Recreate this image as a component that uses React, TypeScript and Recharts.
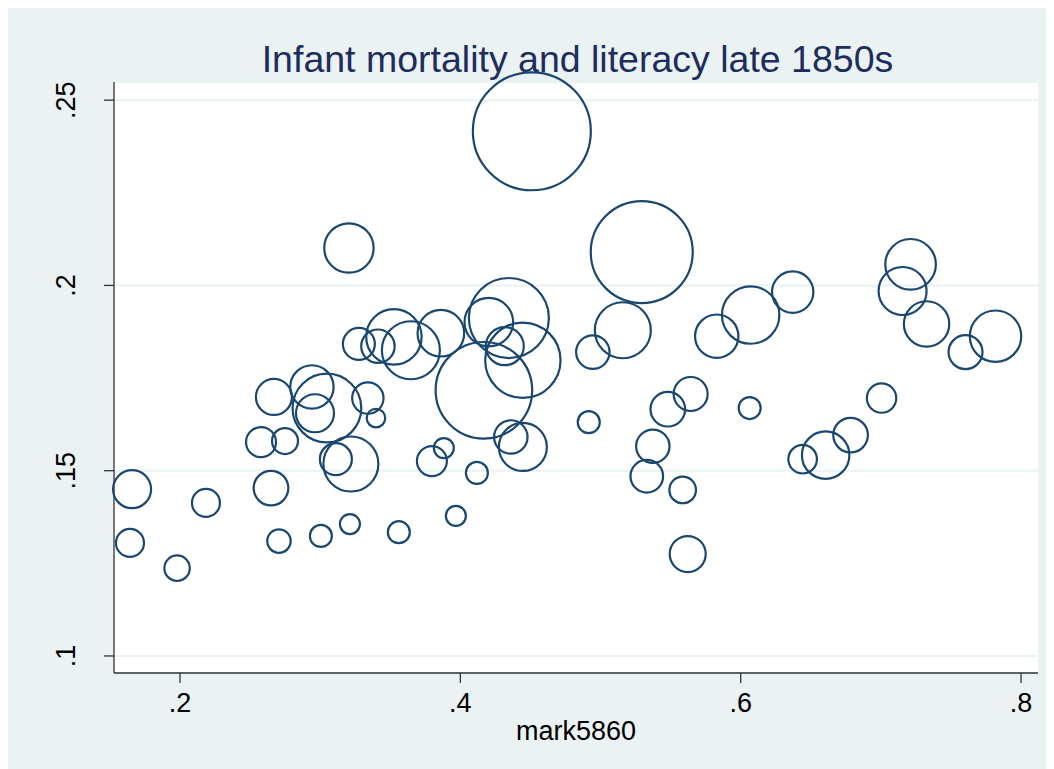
import React from 'react';
import { ScatterChart, Scatter, XAxis, YAxis, ZAxis, CartesianGrid } from 'recharts';

// literacy (share of marks) per district, late 1850s
const mark5860 = [
  0.1658, 0.1643, 0.1979, 0.2185, 0.2578, 0.2749, 0.267, 0.2649, 0.2706, 0.2941,
  0.3048, 0.2963, 0.3276, 0.3412, 0.334, 0.3398, 0.3112, 0.3219, 0.3005, 0.3205,
  0.3212, 0.3526, 0.3647, 0.3561, 0.3797, 0.3882, 0.3968, 0.3861, 0.4118, 0.4203,
  0.4346, 0.4317, 0.4446, 0.4168, 0.436, 0.4446, 0.451, 0.4916, 0.4945, 0.5159,
  0.5294, 0.533, 0.5373, 0.548, 0.5586, 0.5622, 0.5643, 0.5829, 0.6064, 0.6071,
  0.6371, 0.6442, 0.6606, 0.6784, 0.7005, 0.7212, 0.7155, 0.7326, 0.7604, 0.7818,
];

// infant mortality rate
const imr5860 = [
  0.145, 0.1305, 0.1237, 0.1413, 0.1577, 0.158, 0.1699, 0.1453, 0.131, 0.1726,
  0.1669, 0.1655, 0.1842, 0.1836, 0.1696, 0.1642, 0.1531, 0.1518, 0.1324, 0.2101,
  0.1356, 0.1861, 0.1825, 0.1334, 0.1526, 0.1561, 0.1378, 0.1871, 0.1494, 0.1901,
  0.1912, 0.1836, 0.1798, 0.1717, 0.1591, 0.1564, 0.2416, 0.1631, 0.182, 0.1879,
  0.209, 0.1485, 0.1566, 0.1666, 0.1448, 0.1275, 0.1707, 0.1863, 0.1669, 0.192,
  0.1982, 0.1531, 0.1542, 0.1596, 0.1696, 0.2057, 0.1985, 0.1896, 0.182, 0.1863,
];

// bubble weight (births)
const births = [
  3.61, 1.96, 1.61, 1.96, 2.25, 1.69, 3.24, 3.0, 1.37, 4.7,
  11.8, 3.61, 2.56, 2.79, 2.46, 0.86, 2.56, 7.56, 1.21, 6.1,
  1.0, 7.67, 8.41, 1.21, 2.25, 1.0, 1.0, 5.43, 1.21, 5.9,
  16, 3.61, 14.2, 23.3, 2.79, 5.76, 34.8, 1.21, 2.79, 7.84,
  26, 2.66, 2.79, 3.0, 1.77, 3.24, 2.89, 4.7, 1.21, 8.24,
  4.28, 2.04, 5.62, 3.0, 2.16, 6.4, 5.76, 5.15, 2.89, 6.6,
];

const xTicks = [0.2, 0.4, 0.6, 0.8];
const xTickLabels = ['.2', '.4', '.6', '.8'];
const yTicks = [0.1, 0.15, 0.2, 0.25];
const yTickLabels = ['.1', '.15', '.2', '.25'];

const FONT = '"Liberation Sans", Arial, sans-serif';
const NAVY = '#1A476F';

const data = mark5860.map((x, i) => ({ x, y: imr5860[i], w: births[i] }));

const YTick = (props: any) => {
  const { x, y, payload } = props;
  const idx = yTicks.indexOf(payload.value);
  const cx = x - 38;
  return (
    <text
      x={cx}
      y={y}
      transform={`rotate(-90 ${cx} ${y})`}
      textAnchor="middle"
      dominantBaseline="central"
      fontSize={27}
      fontFamily={FONT}
      fill="#000"
    >
      {yTickLabels[idx]}
    </text>
  );
};

export default function App() {
  return (
    <div style={{ width: 1046, height: 761, background: '#EAF2F3', position: 'relative', fontFamily: FONT }}>
      <svg width={1046} height={761} style={{ position: 'absolute', left: 0, top: 0 }}>
        <text x={569.5} y={63.7} textAnchor="middle" fontSize={37.5} fontFamily={FONT} fill="#1E2D5C">
          Infant mortality and literacy late 1850s
        </text>
      </svg>
      <div style={{ position: 'absolute', left: 0, top: 0 }}>
        <ScatterChart width={1046} height={761} margin={{ top: 74, right: 16, bottom: 0, left: 0 }}>
          <CartesianGrid vertical={false} stroke="#EAF2F3" strokeWidth={2} fill="#fff" />
          <XAxis
            type="number"
            dataKey="x"
            domain={[0.1529, 0.8121]}
            ticks={xTicks}
            tickFormatter={(v: number) => xTickLabels[xTicks.indexOf(v)]}
            height={96}
            tickSize={10}
            tickMargin={10}
            axisLine={{ stroke: '#333', strokeWidth: 1.3 }}
            tickLine={{ stroke: '#333', strokeWidth: 1.3 }}
            tick={{ fontSize: 27, fill: '#000', fontFamily: FONT }}
            label={{ value: 'mark5860', position: 'insideBottom', offset: 29, fontSize: 27, fill: '#000', fontFamily: FONT }}
          />
          <YAxis
            type="number"
            dataKey="y"
            domain={[0.0954, 0.2549]}
            ticks={yTicks}
            width={106}
            tickSize={10}
            tickMargin={0}
            axisLine={{ stroke: '#333', strokeWidth: 1.3 }}
            tickLine={{ stroke: '#333', strokeWidth: 1.3 }}
            tick={<YTick />}
          />
          <ZAxis type="number" dataKey="w" domain={[0, 35]} range={[0, 10996]} />
          <Scatter data={data} fill="none" stroke={NAVY} strokeWidth={2.2} isAnimationActive={false} />
        </ScatterChart>
      </div>
    </div>
  );
}
